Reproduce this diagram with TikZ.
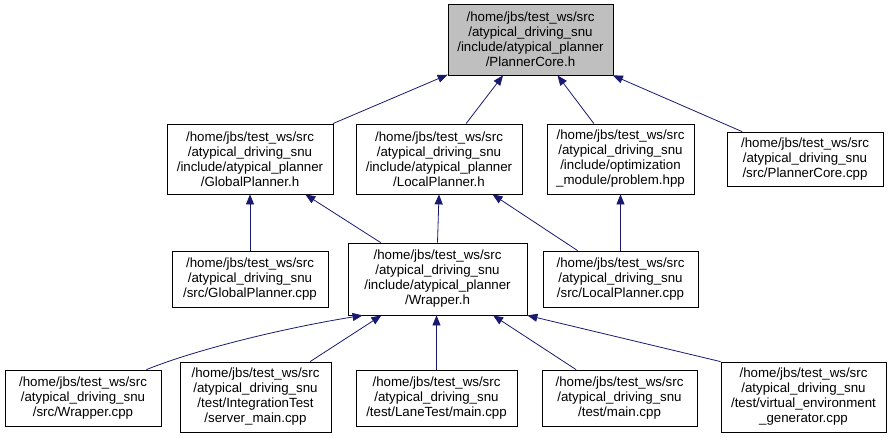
\documentclass[tikz,border=0pt]{standalone}
\usepackage{fontspec}
\setmainfont{Liberation Sans}
\usetikzlibrary{arrows.meta}
\definecolor{midnight}{HTML}{191970}
\definecolor{boxgray}{HTML}{BFBFBF}
\begin{document}
\begin{tikzpicture}[x=1pt,y=-1pt,
  box/.style={draw=black, line width=0.8pt, fill=white, align=center,
    font=\fontsize{13.3}{15}\selectfont, inner sep=0pt},
  edge/.style={draw=midnight, line width=0.8pt, -{Triangle[length=10pt,width=8pt]}}]
\useasboundingbox (0,0) rectangle (889,437);
\node[box, fill=boxgray, minimum width=165pt, minimum height=71pt] (pc) at (530.5,39.5)
  {/home/jbs/test\_ws/src\\/atypical\_driving\_snu\\/include/atypical\_planner\\/PlannerCore.h};
\node[box, minimum width=166pt, minimum height=70pt] (gph) at (250,159)
  {/home/jbs/test\_ws/src\\/atypical\_driving\_snu\\/include/atypical\_planner\\/GlobalPlanner.h};
\node[box, minimum width=166pt, minimum height=70pt] (lph) at (439,159)
  {/home/jbs/test\_ws/src\\/atypical\_driving\_snu\\/include/atypical\_planner\\/LocalPlanner.h};
\node[box, minimum width=147pt, minimum height=70pt] (prob) at (620.5,159)
  {/home/jbs/test\_ws/src\\/atypical\_driving\_snu\\/include/optimization\\\_module/problem.hpp};
\node[box, minimum width=156pt, minimum height=54pt] (pccpp) at (805,159)
  {/home/jbs/test\_ws/src\\/atypical\_driving\_snu\\/src/PlannerCore.cpp};
\node[box, minimum width=156pt, minimum height=56pt] (gpcpp) at (250,279)
  {/home/jbs/test\_ws/src\\/atypical\_driving\_snu\\/src/GlobalPlanner.cpp};
\node[box, minimum width=179pt, minimum height=72pt] (wh) at (437.5,279)
  {/home/jbs/test\_ws/src\\/atypical\_driving\_snu\\/include/atypical\_planner\\/Wrapper.h};
\node[box, minimum width=155pt, minimum height=56pt] (lpcpp) at (620.5,279)
  {/home/jbs/test\_ws/src\\/atypical\_driving\_snu\\/src/LocalPlanner.cpp};
\node[box, minimum width=156pt, minimum height=56pt] (wcpp) at (83,398)
  {/home/jbs/test\_ws/src\\/atypical\_driving\_snu\\/src/Wrapper.cpp};
\node[box, minimum width=151pt, minimum height=70pt] (srv) at (255.5,397)
  {/home/jbs/test\_ws/src\\/atypical\_driving\_snu\\/test/IntegrationTest\\/server\_main.cpp};
\node[box, minimum width=161pt, minimum height=56pt] (lane) at (436.5,398)
  {/home/jbs/test\_ws/src\\/atypical\_driving\_snu\\/test/LaneTest/main.cpp};
\node[box, minimum width=155pt, minimum height=56pt] (tmain) at (619.5,398)
  {/home/jbs/test\_ws/src\\/atypical\_driving\_snu\\/test/main.cpp};
\node[box, minimum width=165pt, minimum height=70pt] (ve) at (803.5,397)
  {/home/jbs/test\_ws/src\\/atypical\_driving\_snu\\/test/virtual\_environment\\\_generator.cpp};
% edges (child -> parent)
\draw[edge] (gph) -- (pc);
\draw[edge] (lph) -- (pc);
\draw[edge] (prob) -- (pc);
\draw[edge] (pccpp) -- (pc);
\draw[edge] (gpcpp) -- (gph);
\draw[edge] (wh) -- (gph);
\draw[edge] (wh.north) -- (lph.south);
\draw[edge] (lpcpp) -- (lph);
\draw[edge] (lpcpp) -- (prob);
\draw[edge] ([xshift=-15pt]wcpp.north east) .. controls (200,348) and (290,327) .. ([xshift=15pt]wh.south west);
\draw[edge] (srv) -- (wh);
\draw[edge] (lane.north) -- (lane.north |- wh.south);
\draw[edge] (tmain) -- (wh);
\draw[edge] (ve.north west) -- (wh.south east);
\end{tikzpicture}
\end{document}
